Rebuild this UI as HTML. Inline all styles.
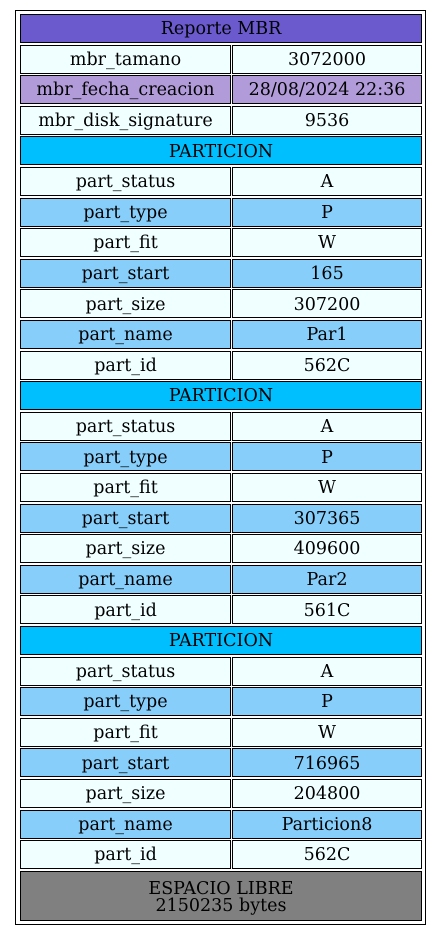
<!DOCTYPE html>
<html><head><meta charset="utf-8"><style>
body{margin:0;background:#fff;width:441px;height:936px;position:relative;overflow:hidden;font-family:"DejaVu Serif",serif;font-size:17.5px;color:#000}
.o{position:absolute;left:15px;top:10px;width:411px;height:915px;border:1px solid #000;box-sizing:border-box}
.c{position:absolute;box-sizing:border-box;border:1px solid #000;height:29px;display:flex;align-items:center;justify-content:center;line-height:1;text-align:center;white-space:nowrap;padding-top:3px}
.l{left:20px;width:211px}.r{left:232px;width:190px}.f{left:20px;width:402px}
.a{background:#f0ffff}.b{background:#87cefa}.p{background:#00bfff}
</style></head><body>
<div class="o"></div>
<div class="c f" style="top:14px;background:#6a5acd">Reporte MBR</div>
<div class="c l a" style="top:44.6px">mbr_tamano</div><div class="c r a" style="top:44.6px">3072000</div>
<div class="c l" style="top:75.2px;background:#b19cd9">mbr_fecha_creacion</div><div class="c r" style="top:75.2px;background:#b19cd9">28/08/2024 22:36</div>
<div class="c l a" style="top:105.8px">mbr_disk_signature</div><div class="c r a" style="top:105.8px">9536</div>

<div class="c f p" style="top:136.4px">PARTICION</div>
<div class="c l a" style="top:167px">part_status</div><div class="c r a" style="top:167px">A</div>
<div class="c l b" style="top:197.6px">part_type</div><div class="c r b" style="top:197.6px">P</div>
<div class="c l a" style="top:228.2px">part_fit</div><div class="c r a" style="top:228.2px">W</div>
<div class="c l b" style="top:258.8px">part_start</div><div class="c r b" style="top:258.8px">165</div>
<div class="c l a" style="top:289.4px">part_size</div><div class="c r a" style="top:289.4px">307200</div>
<div class="c l b" style="top:320px">part_name</div><div class="c r b" style="top:320px">Par1</div>
<div class="c l a" style="top:350.6px">part_id</div><div class="c r a" style="top:350.6px">562C</div>

<div class="c f p" style="top:381.2px">PARTICION</div>
<div class="c l a" style="top:411.8px">part_status</div><div class="c r a" style="top:411.8px">A</div>
<div class="c l b" style="top:442.4px">part_type</div><div class="c r b" style="top:442.4px">P</div>
<div class="c l a" style="top:473px">part_fit</div><div class="c r a" style="top:473px">W</div>
<div class="c l b" style="top:503.6px">part_start</div><div class="c r b" style="top:503.6px">307365</div>
<div class="c l a" style="top:534.2px">part_size</div><div class="c r a" style="top:534.2px">409600</div>
<div class="c l b" style="top:564.8px">part_name</div><div class="c r b" style="top:564.8px">Par2</div>
<div class="c l a" style="top:595.4px">part_id</div><div class="c r a" style="top:595.4px">561C</div>

<div class="c f p" style="top:626px">PARTICION</div>
<div class="c l a" style="top:656.6px">part_status</div><div class="c r a" style="top:656.6px">A</div>
<div class="c l b" style="top:687.2px">part_type</div><div class="c r b" style="top:687.2px">P</div>
<div class="c l a" style="top:717.8px">part_fit</div><div class="c r a" style="top:717.8px">W</div>
<div class="c l b" style="top:748.4px">part_start</div><div class="c r b" style="top:748.4px">716965</div>
<div class="c l a" style="top:779px">part_size</div><div class="c r a" style="top:779px">204800</div>
<div class="c l b" style="top:809.6px">part_name</div><div class="c r b" style="top:809.6px">Particion8</div>
<div class="c l a" style="top:840.2px">part_id</div><div class="c r a" style="top:840.2px">562C</div>

<div class="c f" style="top:871px;height:50px;background:#808080;line-height:17px"><div>ESPACIO LIBRE<br>2150235 bytes</div></div>
</body></html>
